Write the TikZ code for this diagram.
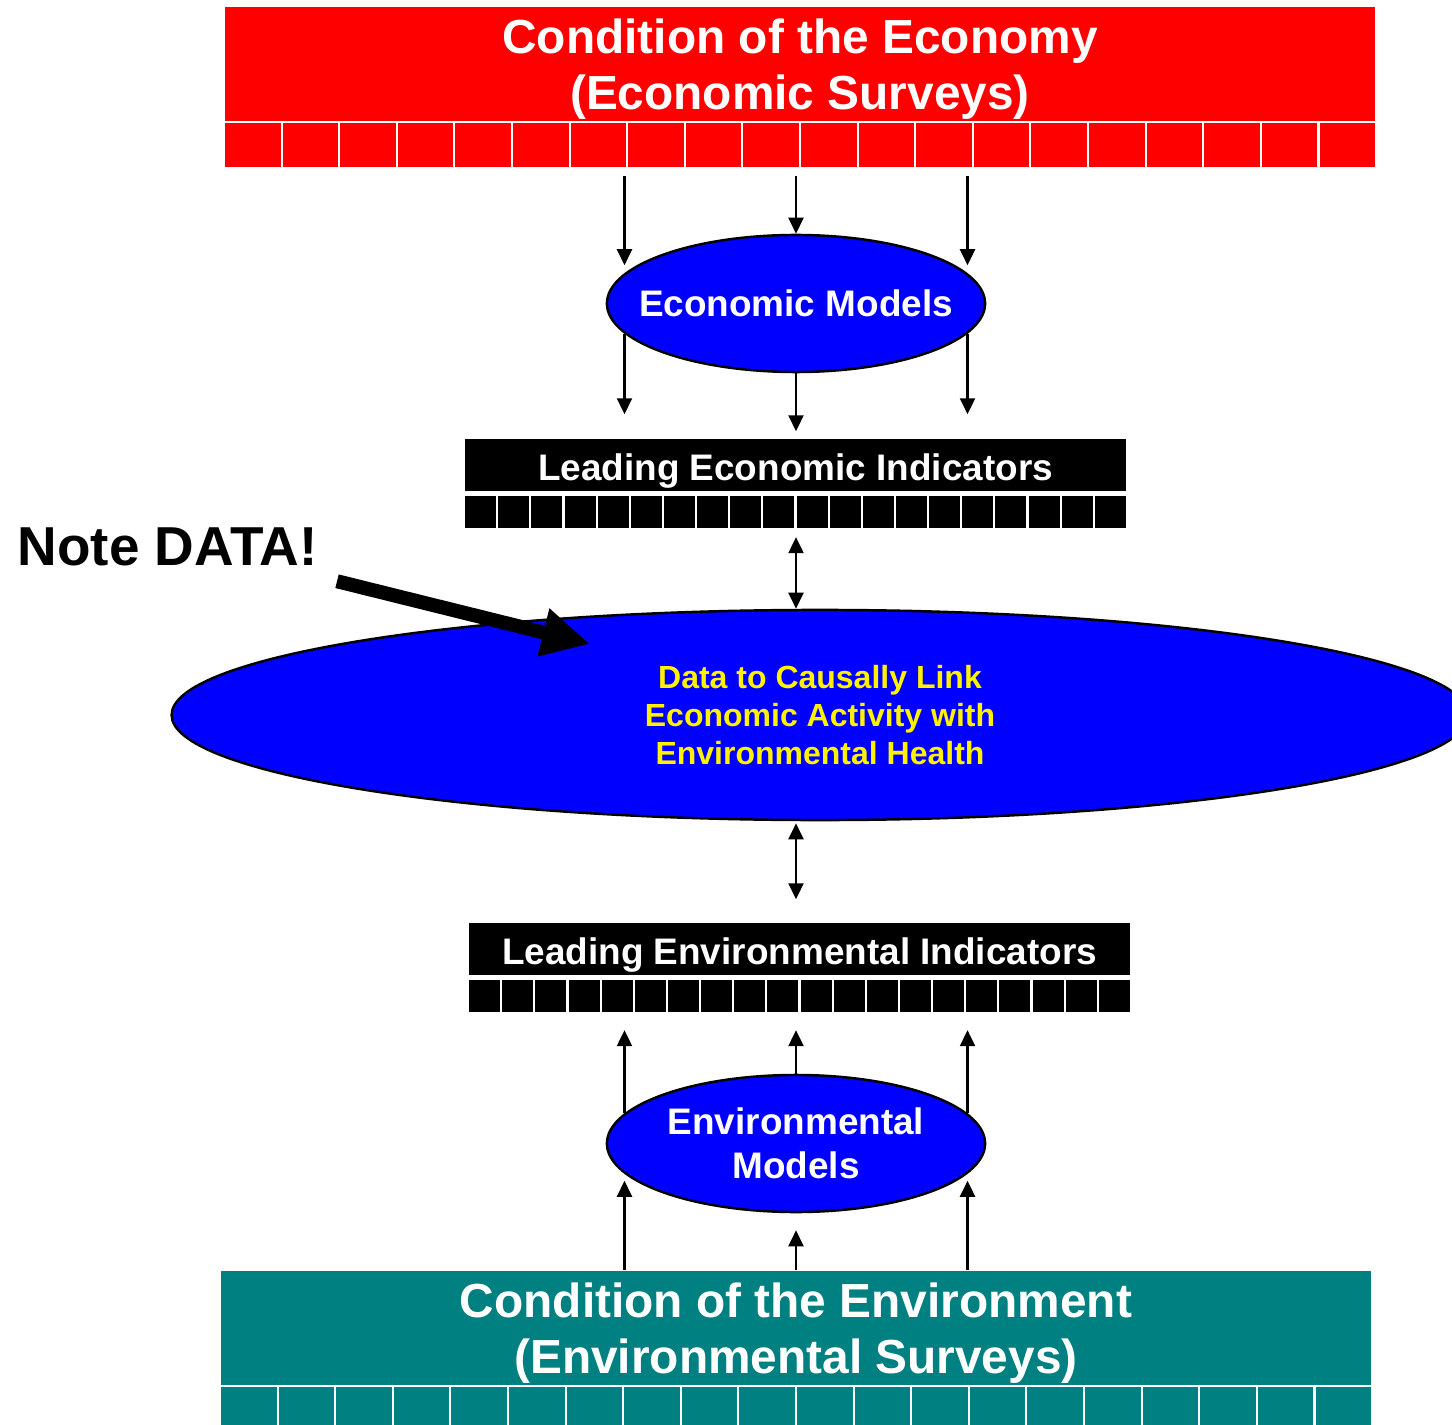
\documentclass[tikz,border=0pt]{standalone}
\usepackage{fontspec}
\setmainfont{Liberation Sans}
\usetikzlibrary{positioning, calc, shapes.geometric, arrows.meta}
\definecolor{envteal}{HTML}{008080}

\begin{document}
\begin{tikzpicture}[x=0.01cm, y=-0.01cm,
  titlebox/.style={rectangle, inner sep=0pt, minimum width=11.5cm, minimum height=1.14cm, text=white, font=\bfseries\fontsize{13.6}{16}\selectfont, align=center},
  cellrow/.style={rectangle, inner sep=0pt, minimum width=11.5cm, minimum height=0.45cm},
  indbox/.style={rectangle, fill=black, inner sep=0pt, minimum width=6.61cm, minimum height=0.52cm, text height=0.3cm, text depth=0cm, text=white, font=\bfseries\fontsize{10.5}{12.5}\selectfont},
  indrow/.style={rectangle, fill=black, inner sep=0pt, minimum width=6.61cm, minimum height=0.32cm},
  model/.style={ellipse, draw=black, line width=0.7pt, fill=blue, inner sep=0pt, minimum width=3.78cm, minimum height=1.37cm},
  mtext/.style={text=white, font=\bfseries\fontsize{10.5}{12.5}\selectfont, align=center, inner sep=0pt},
  dtext/.style={text=yellow, font=\bfseries\fontsize{9.1}{10.8}\selectfont, align=center, inner sep=0pt},
  cellsep/.style={white, line width=0.6pt},
  arr/.style={-{Triangle[length=0.16cm, width=0.15cm]}, line width=0.6pt},
  darr/.style={{Triangle[length=0.16cm, width=0.15cm]}-{Triangle[length=0.16cm, width=0.15cm]}, line width=0.6pt}]

\useasboundingbox (0,0) rectangle (1452,1425);

% economy side
\node[titlebox, fill=red] (econ) at (800,64) {\rule{0pt}{0.45cm}Condition of the Economy\\(Economic Surveys)};
\node[cellrow, fill=red, below=0pt of econ] (econcells) {};
\node[model, label={[mtext]center:Economic Models}] (emod) at (796,303.5) {};
\node[indbox] (lei) at (795.5,465) {Leading Economic Indicators};
\node[indrow, below=0.04cm of lei] (leicells) {};

% environment side
\node[titlebox, fill=envteal] (env) at (796,1328) {\rule{0pt}{0.45cm}Condition of the Environment\\(Environmental Surveys)};
\node[cellrow, fill=envteal, below=0pt of env] (envcells) {};
\node[model, label={[mtext]center:{Environmental\\Models}}] (vmod) at (796,1143.5) {};
\node[indbox] (lenv) at (799.5,949) {Leading Environmental Indicators};
\node[indrow, below=0.04cm of lenv] (lenvcells) {};

% cell rows
\draw[cellsep] (econ.south west) -- (econ.south east);
\draw[cellsep] (env.south west) -- (env.south east);
\foreach \row in {econcells, leicells, lenvcells, envcells}
  \foreach \i in {1,...,19}
    \draw[cellsep] ($(\row.north west)!\i/20!(\row.north east)$) -- ($(\row.south west)!\i/20!(\row.south east)$);

% link
\node[ellipse, draw=black, line width=0.7pt, fill=blue, inner sep=0pt, minimum width=12.96cm, minimum height=2.1cm,
  label={[dtext]center:{Data to Causally Link\\Economic Activity with\\Environmental Health}}] (data) at (820,715) {};

% arrows, top half
\draw[arr, shorten <=0.08cm, shorten >=0.08cm] (econcells.south -| emod.170) -- (emod.170);
\draw[arr, shorten <=0.08cm] (econcells.south -| emod.north) -- (emod.north);
\draw[arr, shorten <=0.08cm, shorten >=0.08cm] (econcells.south -| emod.10) -- (emod.10);
\draw[arr, shorten >=0.24cm] (emod.190) -- (emod.190 |- lei.north);
\draw[arr, shorten >=0.07cm] (emod.south) -- (emod.south |- lei.north);
\draw[arr, shorten >=0.24cm] (emod.350) -- (emod.350 |- lei.north);
\draw[darr, shorten <=0.08cm] (leicells.south -| emod.south) -- (emod.south |- data.north);

% arrows, bottom half
\draw[darr, shorten <=0.02cm, shorten >=0.23cm] (emod.south |- data.south) -- (emod.south |- lenv.north);
\draw[arr, shorten >=0.07cm] (env.north -| vmod.190) -- (vmod.190);
\draw[arr, shorten >=0.17cm] (env.north -| vmod.south) -- (vmod.south);
\draw[arr, shorten >=0.07cm] (env.north -| vmod.350) -- (vmod.350);
\draw[arr, shorten >=0.17cm] (vmod.170) -- (vmod.170 |- lenvcells.south);
\draw[arr, shorten >=0.17cm] (vmod.north) -- (vmod.north |- lenvcells.south);
\draw[arr, shorten >=0.17cm] (vmod.10) -- (vmod.10 |- lenvcells.south);

% note
\node[anchor=base west, inner sep=0pt, font=\bfseries\fontsize{15.6}{18}\selectfont] (note) at (17,565) {Note DATA!};
\coordinate (notetip) at (590,644);
\draw[line width=0.14cm, -{Triangle[length=0.48cm, width=0.46cm]}] ($(note.south east)+(19,15)$) -- (notetip);
\end{tikzpicture}
\end{document}
